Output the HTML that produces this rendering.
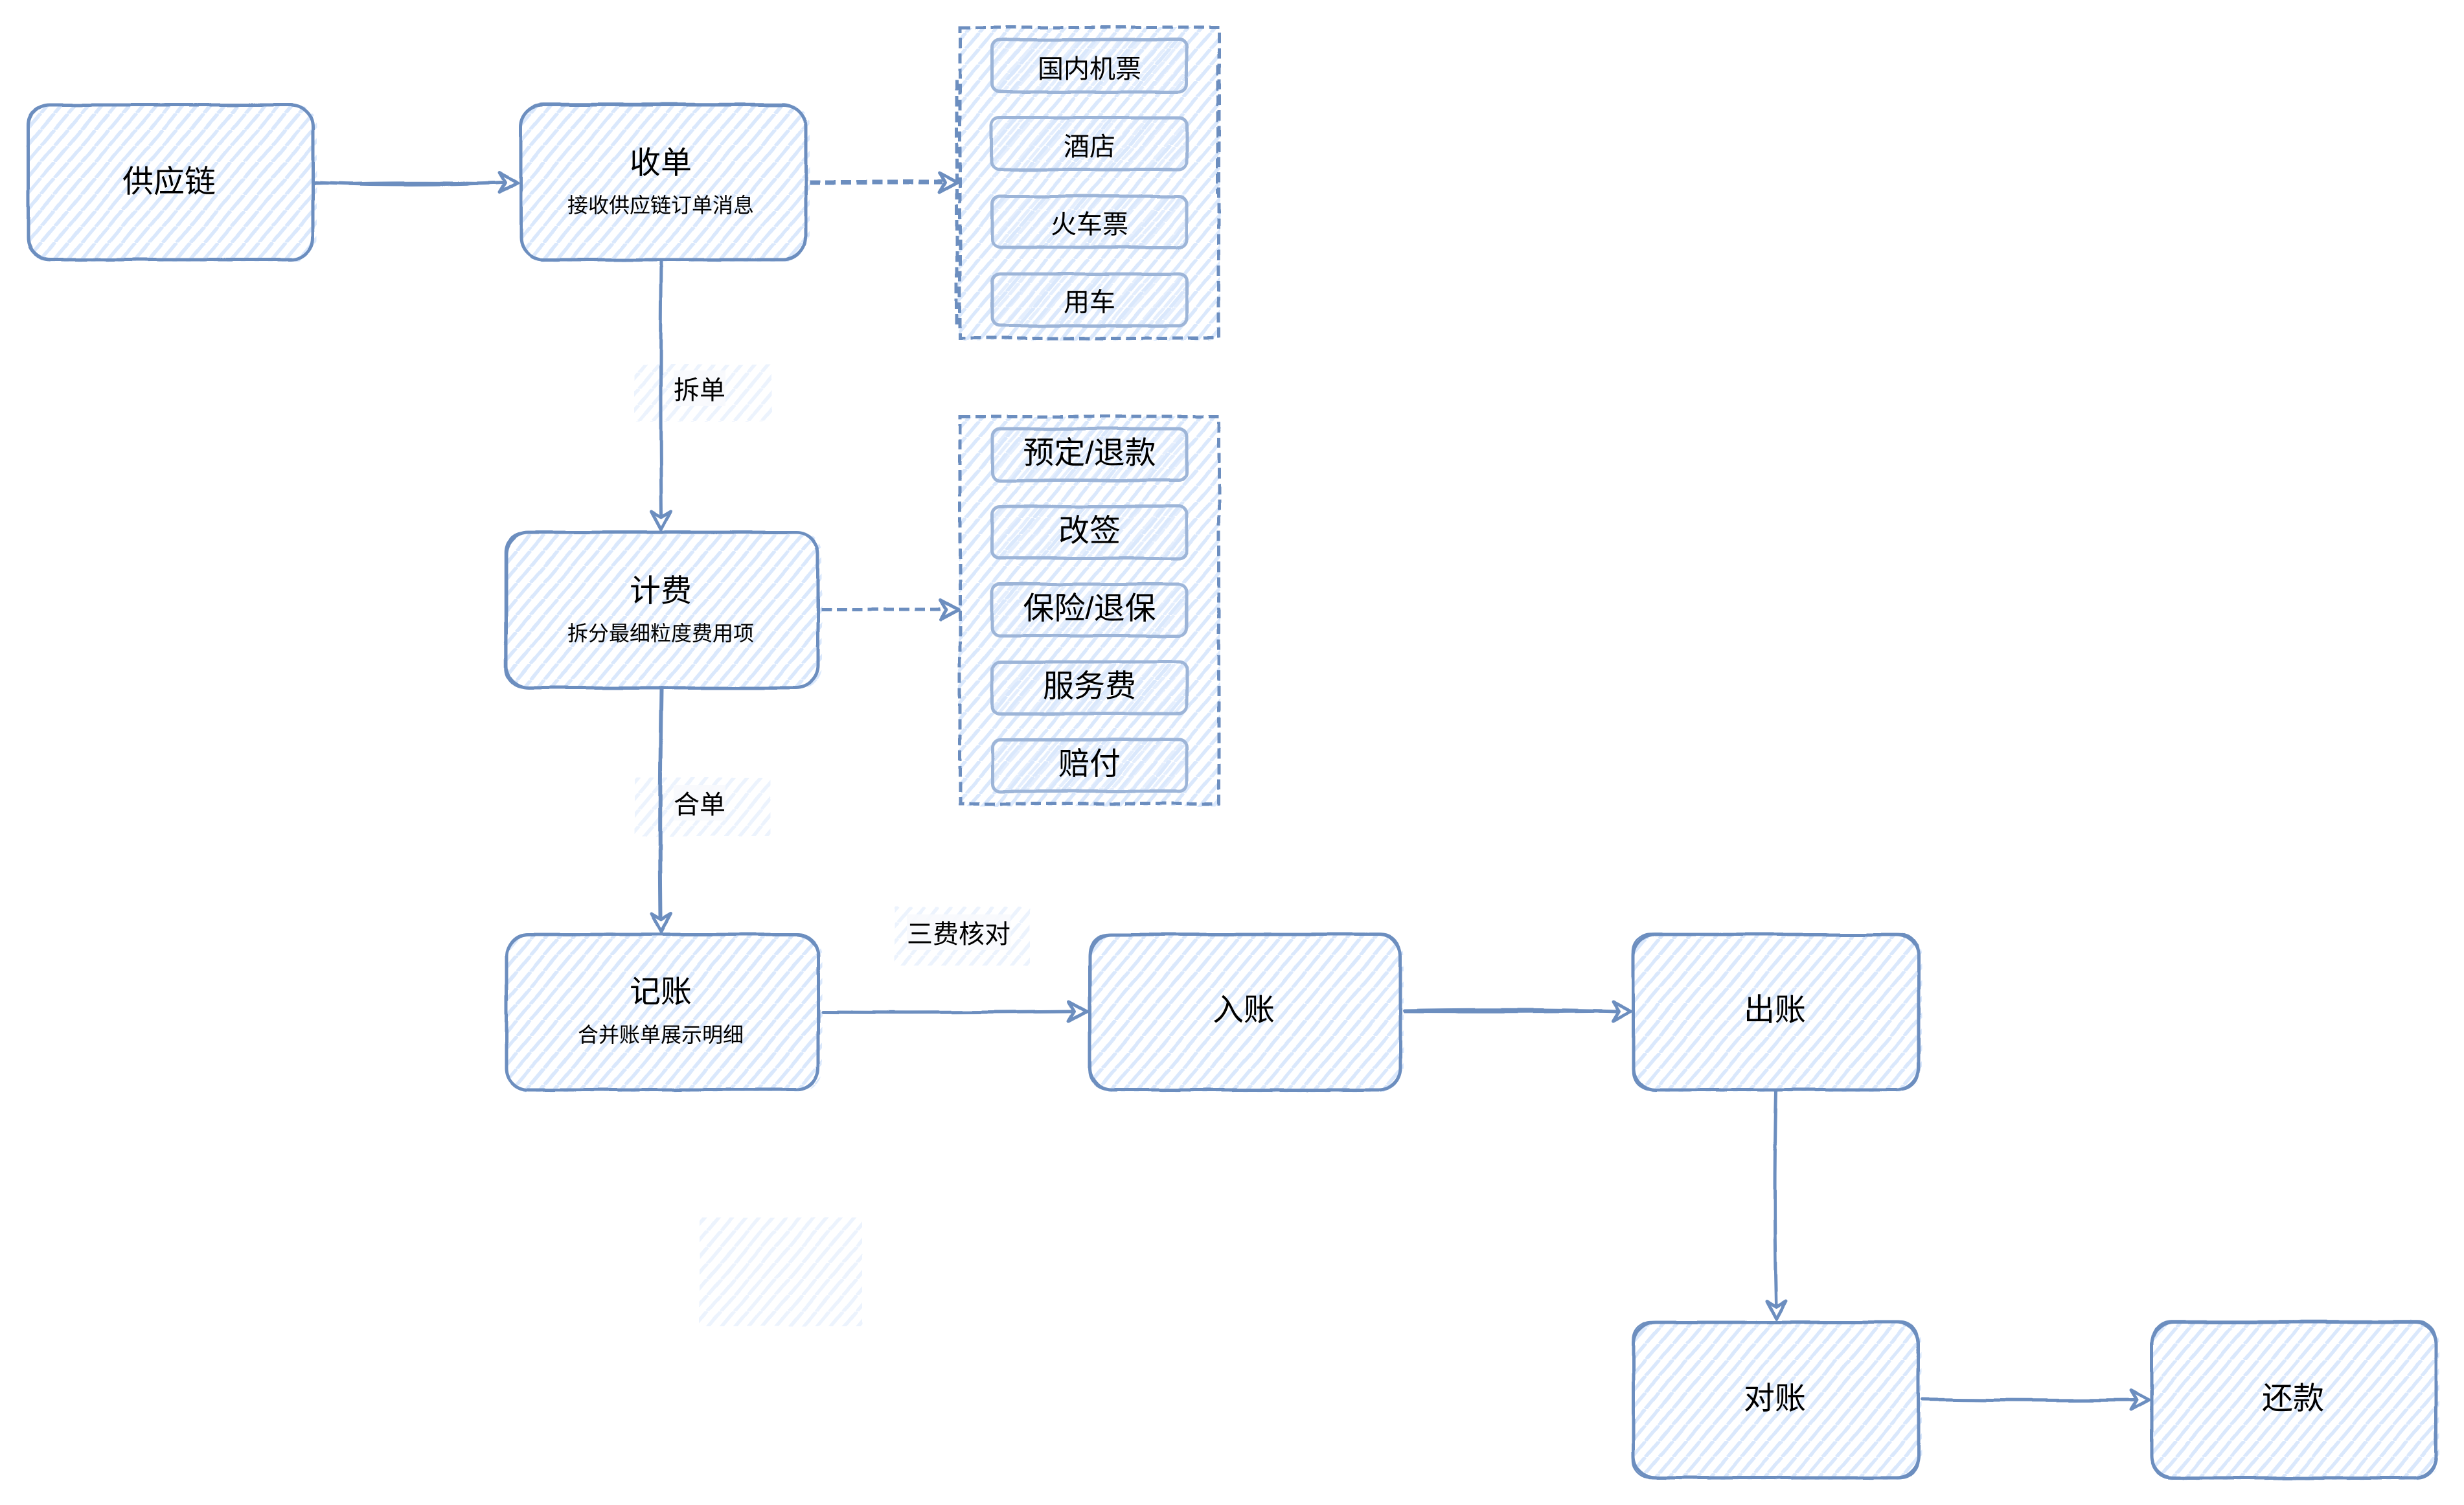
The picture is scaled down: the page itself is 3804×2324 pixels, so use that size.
<!DOCTYPE html>
<html><head><meta charset="utf-8">
<style>
html,body{margin:0;padding:0;background:#fff;width:3804px;height:2324px;overflow:hidden}
svg{display:block}
text{font-family:"Liberation Sans","Noto Sans CJK SC",sans-serif;fill:#000;text-anchor:middle;dominant-baseline:central}
.t{font-size:48px}.s{font-size:32px}.m{font-size:40px}
.box{fill:none;stroke:#6c8ebf;stroke-width:5;stroke-linejoin:round;stroke-linecap:round}
.in{fill:none;stroke:#9db5d8;stroke-width:5;stroke-linejoin:round}
.ln{fill:none;stroke:#6c8ebf;stroke-width:5;stroke-linecap:round}
.ah{fill:#fff;stroke:#6c8ebf;stroke-width:5;stroke-linejoin:round}
.dash{fill:none;stroke:#6c8ebf;stroke-width:5;stroke-dasharray:16 8}
</style></head><body>
<svg xmlns="http://www.w3.org/2000/svg" width="3804" height="2324" viewBox="0 0 3804 2324">
<defs>
<pattern id="h" width="21" height="25" patternUnits="userSpaceOnUse"><path d="M-21 25L0 0M0 25L21 0M21 25L42 0" stroke="#dae8fc" stroke-width="5.5" fill="none"/></pattern>
<pattern id="hl" width="21" height="25" patternUnits="userSpaceOnUse"><path d="M-21 25L0 0M0 25L21 0M21 25L42 0" stroke="#ecf3fd" stroke-width="5.5" fill="none"/></pattern>
<pattern id="hi" width="16" height="19" patternUnits="userSpaceOnUse" x="5"><path d="M-16 19L0 0M0 19L16 0M16 19L32 0" stroke="#dae8fc" stroke-width="5" fill="none" opacity=".75"/></pattern>
<filter id="w" filterUnits="userSpaceOnUse" x="0" y="0" width="3804" height="2324" color-interpolation-filters="sRGB"><feTurbulence type="fractalNoise" baseFrequency="0.012" numOctaves="2" seed="4"/><feDisplacementMap in="SourceGraphic" scale="4" xChannelSelector="R" yChannelSelector="G"/></filter>
<g id="ar"><path class="ah" d="M0 0L-28 -15L-19 0L-28 15Z"/></g>
</defs>

<g filter="url(#w)">
<!-- label hatches -->
<g fill="url(#hl)">
<rect x="980" y="563" width="211" height="88"/>
<rect x="980" y="1201" width="210" height="90"/>
<rect x="1381" y="1400" width="209" height="91"/>
<rect x="1080" y="1880" width="251" height="168"/>
</g>
<!-- hatch fills -->
<g fill="url(#h)">
<rect x="42" y="161" width="447" height="243" rx="34"/>
<rect x="803" y="161" width="447" height="243" rx="34"/>
<rect x="781" y="821" width="488" height="243" rx="34"/>
<rect x="781" y="1443" width="488" height="243" rx="34"/>
<rect x="1682" y="1443" width="485" height="243" rx="34"/>
<rect x="2521" y="1443" width="446" height="243" rx="34"/>
<rect x="2521" y="2042" width="446" height="243" rx="34"/>
<rect x="3322" y="2042" width="444" height="243" rx="34"/>
<rect x="1480" y="42" width="404" height="484"/>
<rect x="1480" y="643" width="404" height="602"/>
</g>
<g fill="url(#hi)">
<rect x="1532" y="61" width="301" height="81" rx="12"/><rect x="1532" y="182" width="301" height="80" rx="12"/><rect x="1532" y="303" width="301" height="80" rx="12"/><rect x="1532" y="423" width="301" height="80" rx="12"/>
<rect x="1532" y="662" width="301" height="80" rx="12"/><rect x="1532" y="782" width="301" height="80" rx="12"/><rect x="1532" y="902" width="301" height="80" rx="12"/><rect x="1532" y="1022" width="301" height="80" rx="12"/><rect x="1532" y="1142" width="301" height="80" rx="12"/>
</g>

<!-- box outlines (double sketched stroke) -->
<g class="box">
<rect x="43" y="162" width="440" height="239" rx="34"/><rect x="42" y="163" width="441" height="237" rx="30" stroke-width="2.5"/>
<rect x="804" y="162" width="440" height="239" rx="34"/><rect x="803" y="160" width="441" height="241" rx="36" stroke-width="2.5"/>
<rect x="782" y="822" width="481" height="240" rx="34"/><rect x="780" y="822" width="482" height="240" rx="30" stroke-width="2.5"/>
<rect x="782" y="1443" width="481" height="240" rx="34"/><rect x="783" y="1442" width="480" height="241" rx="30" stroke-width="2.5"/>
<rect x="1682" y="1443" width="480" height="240" rx="34"/><rect x="1681" y="1442" width="481" height="241" rx="30" stroke-width="2.5"/>
<rect x="2522" y="1443" width="440" height="240" rx="34"/><rect x="2521" y="1442" width="441" height="241" rx="28" stroke-width="2.5"/>
<rect x="2522" y="2042" width="440" height="240" rx="34"/><rect x="2521" y="2041" width="441" height="242" rx="28" stroke-width="2.5"/>
<rect x="3322" y="2042" width="439" height="240" rx="34"/><rect x="3322" y="2040" width="439" height="243" rx="30" stroke-width="2.5"/>
</g>

<!-- groups -->
<rect class="dash" x="1482" y="42" width="400" height="480"/>
<path class="dash" d="M1477 500V120"/>
<path class="dash" style="stroke-width:3" d="M1879 100V300"/>
<rect class="dash" x="1482" y="643" width="400" height="598"/>
<g class="in">
<rect x="1532" y="61" width="300" height="81" rx="12"/><rect x="1531" y="182" width="301" height="80" rx="12"/><rect x="1532" y="303" width="300" height="79" rx="12"/><rect x="1532" y="423" width="300" height="80" rx="12"/>
<rect x="1532" y="662" width="300" height="80" rx="12"/><rect x="1532" y="782" width="300" height="80" rx="12"/><rect x="1532" y="902" width="300" height="80" rx="12"/><rect x="1532" y="1022" width="300" height="80" rx="12"/><rect x="1532" y="1142" width="300" height="80" rx="12"/>
</g>

<!-- connectors -->
<path class="ln" d="M487 282Q640 288 775 282"/><path class="ln" style="stroke-width:3" d="M487 284Q640 280 775 283"/>
<use href="#ar" transform="translate(799 282)"/>
<path class="dash" style="stroke-width:7" d="M1250 281H1455"/><use href="#ar" transform="translate(1478 282)"/>
<path class="ln" d="M1021 402Q1019 600 1021 795"/><use href="#ar" transform="translate(1021 818) rotate(90)"/>
<path class="dash" d="M1268 941H1458"/><use href="#ar" transform="translate(1480 942)"/>
<path class="ln" style="stroke-width:6" d="M1021 1064Q1018 1250 1020 1416"/><use href="#ar" transform="translate(1021 1439) rotate(90)"/>
<path class="ln" d="M1270 1563Q1480 1564 1655 1562"/><use href="#ar" transform="translate(1678 1562)"/>
<path class="ln" d="M2168 1561Q2350 1558 2495 1562"/><path class="ln" style="stroke-width:3" d="M2168 1563Q2350 1564 2495 1562"/><use href="#ar" transform="translate(2518 1562)"/>
<path class="ln" d="M2742 1686Q2738 1850 2742 2014"/><use href="#ar" transform="translate(2742 2037) rotate(90)"/>
<path class="ln" d="M2968 2161Q3150 2163 3295 2162"/><use href="#ar" transform="translate(3318 2162)"/>
</g>

<!-- label backgrounds -->
<rect x="1040" y="572" width="80" height="55" fill="#f8fafd" opacity=".9"/>
<rect x="1040" y="1212" width="80" height="55" fill="#f8fafd" opacity=".9"/>
<rect x="1400" y="1412" width="160" height="55" fill="#f8fafd" opacity=".9"/>

<!-- text -->
<text class="t" x="261" y="281">供应链</text>
<text class="t" x="1020" y="252">收单</text><text class="s" x="1020" y="317">接收供应链订单消息</text>
<text class="t" x="1020" y="913">计费</text><text class="s" x="1020" y="978">拆分最细粒度费用项</text>
<text class="t" x="1020" y="1532">记账</text><text class="s" x="1020" y="1598">合并账单展示明细</text>
<text class="t" x="1920" y="1560">入账</text>
<text class="t" x="2740" y="1560">出账</text>
<text class="t" x="2740" y="2160">对账</text>
<text class="t" x="3540" y="2160">还款</text>
<text class="m" x="1080" y="603">拆单</text>
<text class="m" x="1080" y="1243">合单</text>
<text class="m" x="1480" y="1443">三费核对</text>
<text class="m" x="1682" y="107">国内机票</text>
<text class="m" x="1682" y="227">酒店</text>
<text class="m" x="1682" y="347">火车票</text>
<text class="m" x="1682" y="467">用车</text>
<text class="t" x="1682" y="700">预定/退款</text>
<text class="t" x="1682" y="820">改签</text>
<text class="t" x="1682" y="940">保险/退保</text>
<text class="t" x="1682" y="1060">服务费</text>
<text class="t" x="1682" y="1180">赔付</text>
</svg>
</body></html>
